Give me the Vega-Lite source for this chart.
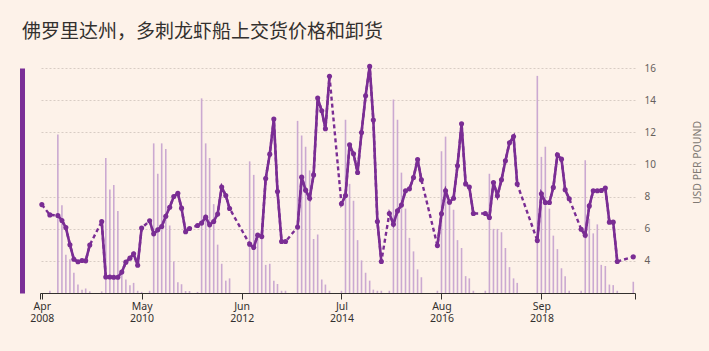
{
  "$schema": "https://vega.github.io/schema/vega-lite/v6.json",
  "width": 595,
  "height": 225,
  "autosize": {"type": "none"},
  "padding": {"left": 40, "top": 68, "right": 74, "bottom": 58},
  "background": "#fdf2e9",
  "title": {
    "text": "佛罗里达州，多刺龙虾船上交货价格和卸货",
    "anchor": "start",
    "font": "Noto Sans CJK SC",
    "fontSize": 19,
    "fontWeight": "normal",
    "color": "#33302e",
    "offset": 19
  },
  "config": {
    "view": {"stroke": null},
    "axis": {"labelFont": "Noto Sans", "titleFont": "Noto Sans"}
  },
  "data": {
    "values": [
      {"date": "2008-04-01", "price": 7.5, "landings": 0},
      {"date": "2008-05-01", "price": null, "landings": 0},
      {"date": "2008-06-01", "price": 6.86, "landings": 0.02},
      {"date": "2008-07-01", "price": null, "landings": 0},
      {"date": "2008-08-01", "price": 6.82, "landings": 1.41},
      {"date": "2008-09-01", "price": 6.51, "landings": 0.78},
      {"date": "2008-10-01", "price": 6.07, "landings": 0.34},
      {"date": "2008-11-01", "price": 5.0, "landings": 0.30},
      {"date": "2008-12-01", "price": 4.1, "landings": 0.18},
      {"date": "2009-01-01", "price": 3.94, "landings": 0.075},
      {"date": "2009-02-01", "price": 4.02, "landings": 0.03},
      {"date": "2009-03-01", "price": 4.0, "landings": 0.04},
      {"date": "2009-04-01", "price": 4.98, "landings": 0.015},
      {"date": "2009-05-01", "price": null, "landings": 0},
      {"date": "2009-06-01", "price": null, "landings": 0},
      {"date": "2009-07-01", "price": 6.45, "landings": 0.015},
      {"date": "2009-08-01", "price": 3.0, "landings": 1.2},
      {"date": "2009-09-01", "price": 3.0, "landings": 0.92},
      {"date": "2009-10-01", "price": 2.98, "landings": 0.96},
      {"date": "2009-11-01", "price": 2.98, "landings": 0.73},
      {"date": "2009-12-01", "price": 3.3, "landings": 0.2},
      {"date": "2010-01-01", "price": 3.92, "landings": 0.12},
      {"date": "2010-02-01", "price": 4.17, "landings": 0.07},
      {"date": "2010-03-01", "price": 4.44, "landings": 0.09},
      {"date": "2010-04-01", "price": 3.73, "landings": 0.02},
      {"date": "2010-05-01", "price": 6.04, "landings": 0.01},
      {"date": "2010-06-01", "price": null, "landings": 0},
      {"date": "2010-07-01", "price": 6.49, "landings": 0.02},
      {"date": "2010-08-01", "price": 5.68, "landings": 1.33},
      {"date": "2010-09-01", "price": 5.93, "landings": 1.06},
      {"date": "2010-10-01", "price": 6.14, "landings": 1.33},
      {"date": "2010-11-01", "price": 6.78, "landings": 1.28},
      {"date": "2010-12-01", "price": 7.34, "landings": 0.6},
      {"date": "2011-01-01", "price": 8.0, "landings": 0.28},
      {"date": "2011-02-01", "price": 8.21, "landings": 0.095},
      {"date": "2011-03-01", "price": 7.28, "landings": 0.078},
      {"date": "2011-04-01", "price": 5.81, "landings": 0.018},
      {"date": "2011-05-01", "price": 6.01, "landings": 0.018},
      {"date": "2011-06-01", "price": null, "landings": 0},
      {"date": "2011-07-01", "price": 6.2, "landings": 0.01},
      {"date": "2011-08-01", "price": 6.35, "landings": 1.73},
      {"date": "2011-09-01", "price": 6.72, "landings": 1.33},
      {"date": "2011-10-01", "price": 6.24, "landings": 1.2},
      {"date": "2011-11-01", "price": 6.45, "landings": 0.79},
      {"date": "2011-12-01", "price": 6.91, "landings": 0.43},
      {"date": "2012-01-01", "price": 8.59, "landings": 0.26},
      {"date": "2012-02-01", "price": 8.07, "landings": 0.11},
      {"date": "2012-03-01", "price": 7.26, "landings": 0.13},
      {"date": "2012-04-01", "price": null, "landings": 0},
      {"date": "2012-05-01", "price": null, "landings": 0},
      {"date": "2012-06-01", "price": null, "landings": 0},
      {"date": "2012-07-01", "price": null, "landings": 0},
      {"date": "2012-08-01", "price": 5.04, "landings": 1.17},
      {"date": "2012-09-01", "price": 4.83, "landings": 1.05},
      {"date": "2012-10-01", "price": 5.6, "landings": 0.5},
      {"date": "2012-11-01", "price": 5.51, "landings": 0.49},
      {"date": "2012-12-01", "price": 9.12, "landings": 0.25},
      {"date": "2013-01-01", "price": 10.64, "landings": 0.26},
      {"date": "2013-02-01", "price": 12.82, "landings": 0.11},
      {"date": "2013-03-01", "price": 8.32, "landings": 0.08},
      {"date": "2013-04-01", "price": 5.2, "landings": 0.02},
      {"date": "2013-05-01", "price": 5.2, "landings": 0.02},
      {"date": "2013-06-01", "price": null, "landings": 0},
      {"date": "2013-07-01", "price": null, "landings": 0},
      {"date": "2013-08-01", "price": 6.1, "landings": 1.53},
      {"date": "2013-09-01", "price": 9.21, "landings": 1.4},
      {"date": "2013-10-01", "price": 8.4, "landings": 1.3},
      {"date": "2013-11-01", "price": 7.9, "landings": 1.09},
      {"date": "2013-12-01", "price": 9.35, "landings": 0.48},
      {"date": "2014-01-01", "price": 14.13, "landings": 0.52},
      {"date": "2014-02-01", "price": 13.34, "landings": 0.12},
      {"date": "2014-03-01", "price": 12.22, "landings": 0.075},
      {"date": "2014-04-01", "price": 15.48, "landings": 0.02},
      {"date": "2014-05-01", "price": null, "landings": 0},
      {"date": "2014-06-01", "price": null, "landings": 0},
      {"date": "2014-07-01", "price": 7.55, "landings": 0.02},
      {"date": "2014-08-01", "price": 8.07, "landings": 1.54},
      {"date": "2014-09-01", "price": 11.22, "landings": 0.97},
      {"date": "2014-10-01", "price": 10.66, "landings": 0.82},
      {"date": "2014-11-01", "price": 9.5, "landings": 0.47},
      {"date": "2014-12-01", "price": 11.99, "landings": 0.29},
      {"date": "2015-01-01", "price": 14.27, "landings": 0.18},
      {"date": "2015-02-01", "price": 16.1, "landings": 0.11},
      {"date": "2015-03-01", "price": 12.76, "landings": 0.03},
      {"date": "2015-04-01", "price": 6.45, "landings": 0.02},
      {"date": "2015-05-01", "price": 3.96, "landings": 0.02},
      {"date": "2015-06-01", "price": null, "landings": 0},
      {"date": "2015-07-01", "price": 6.95, "landings": 0.02},
      {"date": "2015-08-01", "price": 6.28, "landings": 1.72},
      {"date": "2015-09-01", "price": 7.11, "landings": 1.54},
      {"date": "2015-10-01", "price": 7.47, "landings": 1.07},
      {"date": "2015-11-01", "price": 8.36, "landings": 0.75},
      {"date": "2015-12-01", "price": 8.48, "landings": 0.49},
      {"date": "2016-01-01", "price": 9.19, "landings": 0.37},
      {"date": "2016-02-01", "price": 10.31, "landings": 0.21},
      {"date": "2016-03-01", "price": 9.04, "landings": 0.14},
      {"date": "2016-04-01", "price": null, "landings": 0},
      {"date": "2016-05-01", "price": null, "landings": 0},
      {"date": "2016-06-01", "price": null, "landings": 0},
      {"date": "2016-07-01", "price": 4.95, "landings": 0.02},
      {"date": "2016-08-01", "price": 6.93, "landings": 1.26},
      {"date": "2016-09-01", "price": 8.36, "landings": 1.39},
      {"date": "2016-10-01", "price": 7.65, "landings": 0.83},
      {"date": "2016-11-01", "price": 7.9, "landings": 0.74},
      {"date": "2016-12-01", "price": 9.92, "landings": 0.47},
      {"date": "2017-01-01", "price": 12.53, "landings": 0.4},
      {"date": "2017-02-01", "price": 8.79, "landings": 0.15},
      {"date": "2017-03-01", "price": 8.59, "landings": 0.13},
      {"date": "2017-04-01", "price": 6.95, "landings": 0.02},
      {"date": "2017-05-01", "price": null, "landings": 0},
      {"date": "2017-06-01", "price": null, "landings": 0},
      {"date": "2017-07-01", "price": 6.95, "landings": 0.02},
      {"date": "2017-08-01", "price": 6.7, "landings": 1.06},
      {"date": "2017-09-01", "price": 8.88, "landings": 0.57},
      {"date": "2017-10-01", "price": 8.05, "landings": 0.57},
      {"date": "2017-11-01", "price": 9.04, "landings": 0.54},
      {"date": "2017-12-01", "price": 10.23, "landings": 0.4},
      {"date": "2018-01-01", "price": 11.35, "landings": 0.23},
      {"date": "2018-02-01", "price": 11.74, "landings": 0.13},
      {"date": "2018-03-01", "price": 8.78, "landings": 0.09},
      {"date": "2018-04-01", "price": null, "landings": 0},
      {"date": "2018-05-01", "price": null, "landings": 0},
      {"date": "2018-06-01", "price": null, "landings": 0},
      {"date": "2018-07-01", "price": null, "landings": 0},
      {"date": "2018-08-01", "price": 5.26, "landings": 1.93},
      {"date": "2018-09-01", "price": 8.17, "landings": 1.21},
      {"date": "2018-10-01", "price": 7.63, "landings": 1.3},
      {"date": "2018-11-01", "price": 7.63, "landings": 0.75},
      {"date": "2018-12-01", "price": 8.57, "landings": 0.51},
      {"date": "2019-01-01", "price": 10.6, "landings": 0.39},
      {"date": "2019-02-01", "price": 10.33, "landings": 0.22},
      {"date": "2019-03-01", "price": 8.42, "landings": 0.15},
      {"date": "2019-04-01", "price": 7.86, "landings": 0.02},
      {"date": "2019-05-01", "price": null, "landings": 0},
      {"date": "2019-06-01", "price": null, "landings": 0},
      {"date": "2019-07-01", "price": 5.97, "landings": 0.02},
      {"date": "2019-08-01", "price": 5.6, "landings": 1.18},
      {"date": "2019-09-01", "price": 7.42, "landings": 0.66},
      {"date": "2019-10-01", "price": 8.36, "landings": 0.53},
      {"date": "2019-11-01", "price": 8.36, "landings": 0.61},
      {"date": "2019-12-01", "price": 8.38, "landings": 0.25},
      {"date": "2020-01-01", "price": 8.53, "landings": 0.24},
      {"date": "2020-02-01", "price": 6.41, "landings": 0.075},
      {"date": "2020-03-01", "price": 6.41, "landings": 0.07},
      {"date": "2020-04-01", "price": 3.96, "landings": 0.02},
      {"date": "2020-05-01", "price": null, "landings": 0},
      {"date": "2020-06-01", "price": null, "landings": 0},
      {"date": "2020-07-01", "price": null, "landings": 0},
      {"date": "2020-08-01", "price": 4.25, "landings": 0.1}
    ]
  },
  "encoding": {
    "x": {
      "field": "date",
      "type": "temporal",
      "scale": {
        "type": "utc",
        "domain": [
          {"year": 2008, "month": 3, "date": 18, "utc": true},
          {"year": 2020, "month": 8, "date": 14, "utc": true}
        ]
      },
      "axis": {
        "values": [
          {"year": 2008, "month": 3, "date": 18, "utc": true},
          {"year": 2008, "month": 4, "date": 1, "utc": true},
          {"year": 2010, "month": 5, "date": 1, "utc": true},
          {"year": 2012, "month": 6, "date": 1, "utc": true},
          {"year": 2014, "month": 7, "date": 1, "utc": true},
          {"year": 2016, "month": 8, "date": 1, "utc": true},
          {"year": 2018, "month": 9, "date": 1, "utc": true},
          {"year": 2020, "month": 8, "date": 14, "utc": true}
        ],
        "labelExpr": "utcdate(datum.value) == 1 ? [utcFormat(datum.value, '%b'), utcFormat(datum.value, '%Y')] : ''",
        "title": null,
        "grid": false,
        "domainColor": "#33302e",
        "domainWidth": 1,
        "tickColor": "#33302e",
        "tickSize": 6,
        "labelColor": "#33302e",
        "labelFontSize": 10.5,
        "labelLineHeight": 12.5,
        "labelPadding": 2,
        "labelBaseline": "top",
        "labelFlush": false,
        "labelOverlap": false
      }
    }
  },
  "layer": [
    {
      "mark": {"type": "rule", "color": "#cba9d1", "strokeWidth": 1.6},
      "encoding": {
        "y": {
          "field": "landings",
          "type": "quantitative",
          "scale": {"domain": [0, 2]},
          "axis": {
            "orient": "left",
            "labels": false,
            "ticks": false,
            "grid": false,
            "title": null,
            "domainColor": "#7b2f97",
            "domainWidth": 5,
            "offset": 18
          }
        },
        "y2": {"datum": 0}
      }
    },
    {
      "encoding": {
        "y": {
          "field": "price",
          "type": "quantitative",
          "scale": {"domain": [2, 16]},
          "axis": {
            "orient": "right",
            "values": [4, 6, 8, 10, 12, 14, 16],
            "grid": true,
            "gridDash": [2, 2],
            "gridColor": "#d8cdc4",
            "gridWidth": 1,
            "domain": false,
            "ticks": false,
            "tickSize": 0,
            "labelPadding": 9,
            "labelColor": "#66605c",
            "labelFontSize": 10,
            "title": "USD PER POUND",
            "titleColor": "#807973",
            "titleFontSize": 10.5,
            "titleFontWeight": "normal",
            "titleAngle": 270,
            "titleAlign": "center",
            "titleBaseline": "middle",
            "titleX": 62,
            "titleY": 94
          }
        }
      },
      "layer": [
        {
          "transform": [{"filter": "datum.price != null"}],
          "mark": {"type": "line", "color": "#7a2d94", "strokeWidth": 2.4, "strokeDash": [4, 3]}
        },
        {
          "mark": {"type": "line", "color": "#7a2d94", "strokeWidth": 2.6, "invalid": "break-paths-filter-domains"}
        },
        {
          "transform": [{"filter": "datum.price != null"}],
          "mark": {"type": "point", "filled": true, "color": "#7a2d94", "size": 26, "opacity": 1}
        }
      ]
    }
  ],
  "resolve": {"scale": {"y": "independent"}}
}
